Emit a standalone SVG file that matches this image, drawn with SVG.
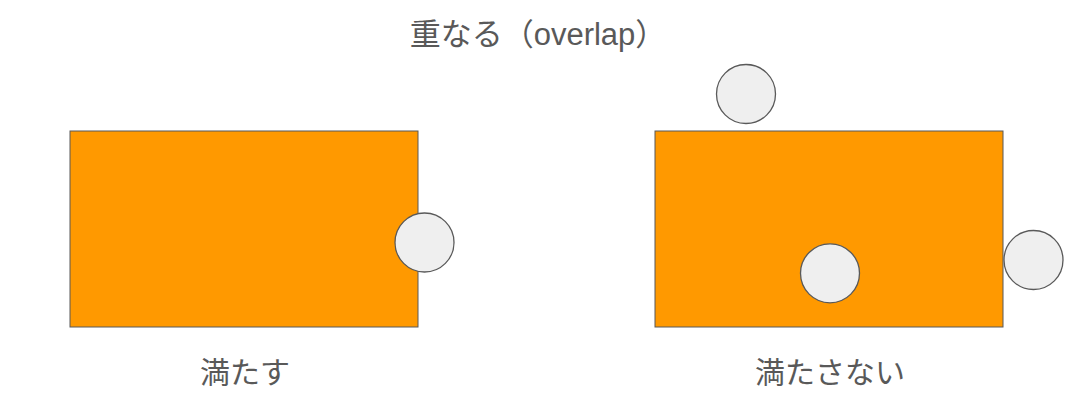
<svg xmlns="http://www.w3.org/2000/svg" width="1080" height="405" viewBox="0 0 1080 405">
<style>
.box{fill:#FF9900;stroke:#595959;stroke-width:1}
.dot{fill:#EFEFEF;stroke:#595959;stroke-width:1.3}
.lbl{font-family:"Liberation Sans","Noto Sans CJK JP",sans-serif;font-size:30px;fill:#595959;text-anchor:middle}
</style>
<rect width="1080" height="405" fill="#FFFFFF"/>
<g id="title"><text class="lbl" x="538" y="45" style="font-size:31px">重なる（overlap）</text></g>
<g id="rect-left"><rect class="box" x="70" y="131" width="348" height="196"/></g>
<g id="circle-left"><circle class="dot" cx="424.5" cy="242.5" r="29.5"/></g>
<g id="label-left"><text class="lbl" x="245" y="383">満たす</text></g>
<g id="rect-right"><rect class="box" x="655" y="131" width="348" height="196"/></g>
<g id="circle-top"><circle class="dot" cx="746" cy="94" r="29.5"/></g>
<g id="circle-inside"><circle class="dot" cx="830" cy="273.3" r="29.5"/></g>
<g id="circle-right"><circle class="dot" cx="1033.5" cy="260" r="29.5"/></g>
<g id="label-right"><text class="lbl" x="830" y="383">満たさない</text></g>
<g id="connectors"/>
</svg>
